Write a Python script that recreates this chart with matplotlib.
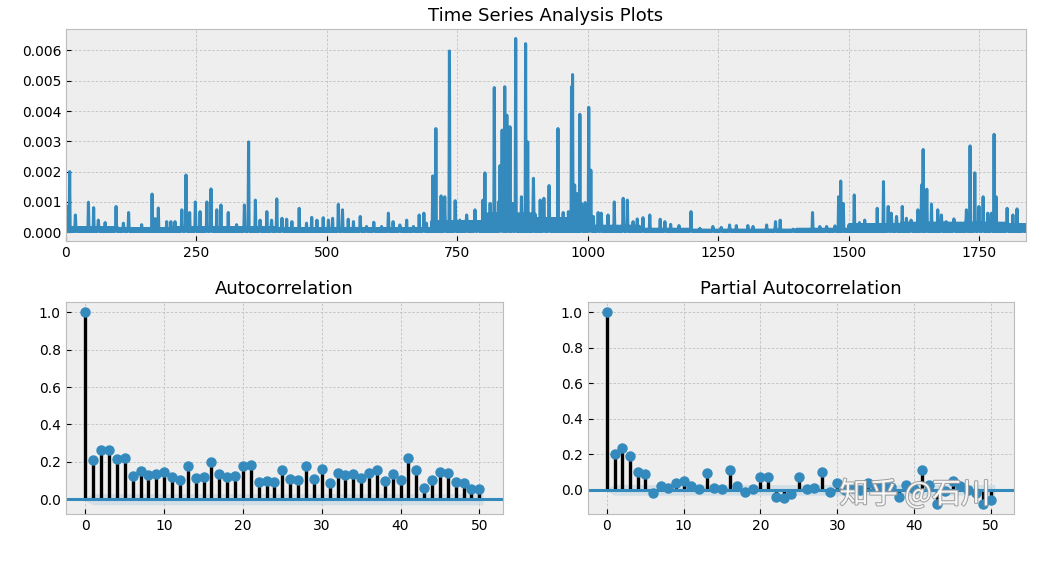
import numpy as np
import matplotlib.pyplot as plt
import matplotlib.patheffects as pe

plt.style.use('bmh')
plt.rcParams['grid.linestyle'] = (0, (3, 2))
plt.rcParams['grid.linewidth'] = 0.6
plt.rcParams['grid.color'] = '#c0c0c0'

# ---- time series (values in units of 1e-3) ----
n_points = 1841
base_edges = [0, 100, 200, 300, 400, 500, 600, 700, 800, 900, 1000,
              1100, 1200, 1300, 1400, 1500, 1600, 1700, 1800, 1841]
base_levels = [0.15, 0.12, 0.15, 0.15, 0.12, 0.12, 0.12, 0.35, 0.6, 0.45,
               0.2, 0.1, 0.07, 0.07, 0.1, 0.25, 0.3, 0.3, 0.25]
floor_level = 0.03

spike_x = [3, 7, 18, 43, 53, 62, 75, 96, 110, 120, 145, 165, 171, 177, 193, 201, 209,
           222, 230, 237, 248, 257, 270, 278, 289, 297, 311, 327, 342, 350, 363, 372,
           385, 394, 404, 414, 423, 433, 447, 461, 471, 481, 493, 503, 511, 522, 530,
           541, 551, 564, 576, 590, 605, 618, 627, 640, 653, 666, 677, 686, 691,
           703, 709, 719, 726, 735, 746, 755, 768, 784, 790, 799, 803, 813, 821, 829,
           832, 836, 839, 841, 845, 848, 851, 856, 862, 873, 881, 885, 896, 909, 916,
           926, 943, 953, 963, 969, 971, 975, 979, 985, 988, 995, 1002, 1006, 1011,
           1020, 1026, 1039, 1051, 1068, 1076, 1087, 1095, 1106, 1119, 1139, 1148,
           1159, 1175, 1198, 1215, 1240, 1256, 1272, 1285, 1307, 1317, 1343, 1360,
           1369, 1394, 1413, 1431, 1445, 1458, 1474, 1481, 1485, 1490, 1511, 1521,
           1531, 1555, 1567, 1576, 1582, 1592, 1603, 1611, 1620, 1633, 1640, 1643,
           1650, 1659, 1671, 1678, 1687, 1702, 1713, 1726, 1733, 1742, 1750, 1758,
           1767, 1774, 1779, 1783, 1793, 1804, 1815, 1823, 1834]
spike_y = [0.85, 2.0, 0.57, 0.99, 0.81, 0.4, 0.32, 0.85, 0.3, 0.65, 0.25, 1.26, 0.45, 0.8,
           0.35, 0.35, 0.35, 0.74, 1.89, 0.65, 1.0, 0.68, 1.0, 1.43, 0.74, 0.9, 0.65,
           0.25, 0.9, 2.98, 1.06, 0.4, 0.68, 0.4, 1.1, 0.46, 0.43, 0.35, 0.79, 0.3,
           0.49, 0.4, 0.48, 0.4, 0.46, 0.92, 0.74, 0.43, 0.35, 0.52, 0.19, 0.33, 0.19,
           0.63, 0.35, 0.24, 0.4, 0.19, 0.57, 0.63, 0.3,
           1.86, 3.42, 1.2, 1.17, 5.98, 1.04, 0.4, 0.57, 0.74, 0.3, 1.06, 1.96, 0.95,
           4.77, 1.0, 2.2, 3.37, 3.0, 4.8, 3.86, 2.6, 3.48, 0.95, 6.39, 1.17, 6.22,
           2.98, 1.78, 1.06, 1.12,
           1.54, 3.42, 0.65, 0.68, 4.8, 5.2, 1.56, 1.28, 3.89, 0.95, 0.98, 4.12, 2.05,
           0.52, 0.65, 0.63, 0.57, 1.0, 1.12, 1.06, 0.35, 0.44, 0.48, 0.57, 0.43, 0.35,
           0.26, 0.22, 0.68, 0.13, 0.19, 0.16, 0.24, 0.22, 0.22, 0.19, 0.24, 0.35,
           0.4, 0.1, 0.1, 0.65, 0.19, 0.19, 0.21, 1.17, 1.69, 0.95, 1.23, 0.32,
           0.4, 0.79, 1.67, 0.85, 0.63, 0.52, 0.85, 0.46, 0.4, 0.74, 1.56, 2.73,
           1.42, 0.93, 0.74, 0.57, 0.35, 0.44, 0.3, 0.74, 2.85, 1.96, 0.85, 1.17,
           0.63, 0.63, 3.23, 1.17, 0.3, 0.79, 0.57, 0.77, 0.24]

# ---- correlograms ----
lags = list(range(51))
acf_vals = [1.0, 0.21, 0.264, 0.264, 0.214, 0.218, 0.125, 0.15, 0.13, 0.136, 0.145,
            0.118, 0.104, 0.179, 0.116, 0.121, 0.2, 0.134, 0.118, 0.125, 0.179,
            0.184, 0.091, 0.098, 0.093, 0.155, 0.107, 0.104, 0.179, 0.109, 0.161,
            0.086, 0.139, 0.132, 0.137, 0.113, 0.139, 0.155, 0.098, 0.136, 0.102,
            0.218, 0.155, 0.061, 0.102, 0.148, 0.139, 0.093, 0.086, 0.057, 0.055]
pacf_vals = [1.0, 0.204, 0.234, 0.19, 0.103, 0.092, -0.019, 0.019, 0.011, 0.041, 0.052,
             0.019, 0.004, 0.097, 0.009, 0.004, 0.112, 0.022, -0.011, 0.007, 0.075,
             0.075, -0.039, -0.047, -0.026, 0.075, 0.007, 0.013, 0.101, -0.011, 0.041,
             0.0, 0.01, 0.0, 0.04, 0.01, 0.02, 0.015, -0.04, 0.026, 0.005,
             0.11, 0.03, -0.077, -0.005, 0.05, 0.022, 0.0, -0.015, -0.08, -0.055]
conf = 0.03

series = np.zeros(n_points)
for i in range(len(base_levels)):
    seg = np.arange(base_edges[i], base_edges[i + 1])
    series[seg] = np.where(seg % 2 == 0, floor_level, base_levels[i])
series[spike_x] = spike_y
series = series * 1e-3

fig = plt.figure(figsize=(10.56, 5.67), dpi=100)
ts_ax = fig.add_axes([0.0625, 0.575, 0.909, 0.374])
acf_ax = fig.add_axes([0.0622, 0.0935, 0.4141, 0.3739])
pacf_ax = fig.add_axes([0.5565, 0.0935, 0.4037, 0.3739])

ts_ax.plot(np.arange(n_points), series, color='#348ABD', lw=2.2)
ts_ax.set_xlim(0, 1840)
ts_ax.set_title('Time Series Analysis Plots', fontsize=13)


def corr_plot(ax, vals, title, ylim):
    band_x = np.array(lags, dtype=float)
    band_x[0] -= 0.5
    band_x[-1] += 0.5
    band = np.full(len(lags), conf)
    band[0] = 0
    ax.fill_between(band_x, -band, band, color='#348ABD', alpha=0.15, lw=0)
    ax.vlines(lags, 0, vals, colors='k', lw=2.4)
    ax.axhline(0, color='#348ABD', lw=2.2)
    ax.plot(lags, vals, 'o', color='#348ABD', ms=6.5)
    ax.set_title(title, fontsize=13)
    ax.set_xlim(-2.5, 53)
    ax.set_ylim(*ylim)


corr_plot(acf_ax, acf_vals, 'Autocorrelation', (-0.079, 1.055))
corr_plot(pacf_ax, pacf_vals, 'Partial Autocorrelation', (-0.136, 1.058))

fig.text(0.795, 0.127, '知乎 @石川', family=['Noto Sans CJK SC', 'DejaVu Sans'],
         fontsize=21, color='white', alpha=0.9, va='center', ha='left',
         path_effects=[pe.withStroke(linewidth=1.5, foreground='#999999')])

plt.savefig('out.png', dpi=100)
